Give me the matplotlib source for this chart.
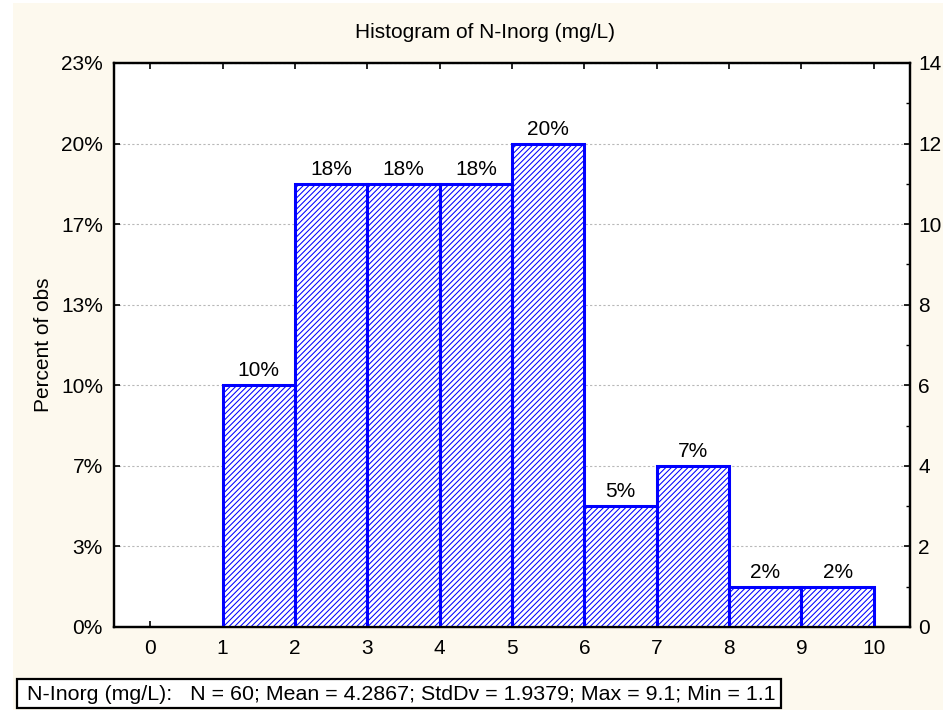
import matplotlib.pyplot as plt
from matplotlib.patches import Rectangle
from matplotlib.ticker import FixedLocator, FuncFormatter, MultipleLocator

# histogram of inorganic nitrogen, bins of width 1 mg/L
bin_edges = [1, 2, 3, 4, 5, 6, 7, 8, 9, 10]
counts = [6, 11, 11, 11, 12, 3, 4, 1, 1]
n_obs = 60
x_ticks = list(range(0, 11))
count_ticks = [0, 2, 4, 6, 8, 10, 12, 14]
summary = "N-Inorg (mg/L):   N = 60; Mean = 4.2867; StdDv = 1.9379; Max = 9.1; Min = 1.1"

plt.rcParams['font.family'] = ['Liberation Sans', 'DejaVu Sans']
plt.rcParams['hatch.linewidth'] = 0.75
plt.rcParams['hatch.color'] = '#0000ff'

fs = 15
cream = '#fdf9ee'
W, H = 943, 710
fig = plt.figure(figsize=(9.43, 7.10), dpi=100, facecolor='white')
fig.patches.append(Rectangle((13 / W, 0), 1, 1 - 3 / H, transform=fig.transFigure,
                             facecolor=cream, edgecolor='none', zorder=-10))

ax = fig.add_axes([114 / W, 1 - 627 / H, (910 - 114) / W, (627 - 63) / H])
ax.set_facecolor('white')

widths = [bin_edges[i + 1] - bin_edges[i] for i in range(len(counts))]
ax.bar(bin_edges[:-1], counts, width=widths, align='edge', facecolor='white',
       edgecolor='#0000ff', linewidth=2.2, hatch='//////', zorder=3)

for left, w, c in zip(bin_edges[:-1], widths, counts):
    pct = round(c / n_obs * 100)
    ax.text(left + w / 2, c + 0.12, f"{pct}%", ha='center', va='bottom', fontsize=fs, zorder=4)

ax.set_xlim(-0.5, 10.5)
ax.set_ylim(0, 14)
ax.xaxis.set_major_locator(FixedLocator(x_ticks))
ax.yaxis.set_major_locator(FixedLocator(count_ticks))
ax.yaxis.set_major_formatter(FuncFormatter(lambda v, p: f"{round(v / n_obs * 100)}%"))
ax.grid(axis='y', color='#b8b8b8', linestyle=(0, (2, 2)), linewidth=0.8, zorder=1)

ax.tick_params(direction='in', length=4, width=1.2, labelsize=fs, pad=8,
               top=True, bottom=True, left=True, right=False)
ax.tick_params(axis='x', pad=9)
for s in ax.spines.values():
    s.set_linewidth(1.6)

ax2 = ax.twinx()
ax2.set_ylim(0, 14)
ax2.yaxis.set_major_locator(FixedLocator(count_ticks))
ax2.yaxis.set_minor_locator(MultipleLocator(1))
ax2.tick_params(direction='in', length=4, width=1.2, labelsize=fs, pad=6)
ax2.tick_params(which='minor', direction='in', length=3, width=1.0)
for s in ax2.spines.values():
    s.set_linewidth(1.6)

ax.set_ylabel("Percent of obs", fontsize=fs, labelpad=6)
fig.text(485 / W, 1 - 32 / H, "Histogram of N-Inorg (mg/L)", ha='center', va='center', fontsize=fs)

# summary statistics box under the plot
fig.patches.append(Rectangle((17 / W, 1 - 708 / H), (781 - 17) / W, (708 - 679) / H,
                             transform=fig.transFigure, facecolor='white',
                             edgecolor='black', linewidth=1.6, zorder=5))
fig.text(27 / W, 1 - 694 / H, summary, ha='left', va='center', fontsize=15.4, zorder=6)

fig.savefig("out.png", dpi=100, facecolor=fig.get_facecolor())
